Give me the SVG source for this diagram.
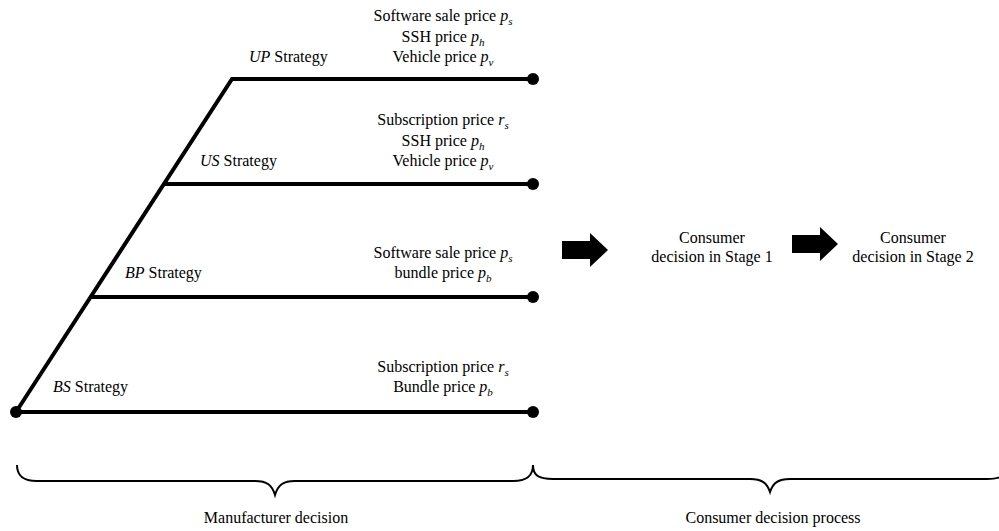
<svg xmlns="http://www.w3.org/2000/svg" width="999" height="531" viewBox="0 0 999 531">
<style>
text{font-family:"Liberation Serif","Times New Roman",serif;font-size:16px;fill:#000}
.c{text-anchor:middle}
.i{font-style:italic}
.sub{font-size:11px;font-style:italic}
.ln{stroke:#000;stroke-width:4;fill:none}
.br{stroke:#000;stroke-width:2;fill:none}
.dot{fill:#000}
</style>
<rect width="999" height="531" fill="#fff"/>
<g id="connectors">
<polyline class="ln" points="16,412 232,79 533,79" stroke-linejoin="miter"/>
<line class="ln" x1="164" y1="184" x2="533" y2="184"/>
<line class="ln" x1="91" y1="297" x2="533" y2="297"/>
<line class="ln" x1="16" y1="412" x2="533" y2="412"/>
<circle class="dot" cx="16" cy="412" r="6"/>
<circle class="dot" cx="533" cy="79" r="6"/>
<circle class="dot" cx="533" cy="184" r="6"/>
<circle class="dot" cx="533" cy="297" r="6"/>
<circle class="dot" cx="533" cy="412" r="6"/>
<polygon class="dot" points="562,241 590,241 590,233 608,250 590,267 590,259 562,259"/>
<polygon class="dot" points="792,235 820,235 820,227 838,244 820,261 820,253 792,253"/>
<path class="br" d="M17,465 C17,475 22,481 37,481 L255,481 C267,481 272,485 275,495 C278,485 283,481 295,481 L513,481 C528,481 533,475 533,465"/>
<path class="br" d="M533,465 C533,475 538,479 553,479 L750,479 C762,479 767,483 770,492 C773,483 778,479 790,479 L987,479 C1002,479 1007,475 1007,465"/>
</g>
<g id="up">
<text x="249" y="62"><tspan class="i">UP</tspan> Strategy</text>
<text class="c" x="443" y="21">Software sale price <tspan class="i">p</tspan><tspan class="sub" dy="4">s</tspan></text>
<text class="c" x="443" y="42">SSH price <tspan class="i">p</tspan><tspan class="sub" dy="4">h</tspan></text>
<text class="c" x="443" y="62">Vehicle price <tspan class="i">p</tspan><tspan class="sub" dy="4">v</tspan></text>
</g>
<g id="us">
<text x="200" y="166"><tspan class="i">US</tspan> Strategy</text>
<text class="c" x="443" y="125">Subscription price <tspan class="i">r</tspan><tspan class="sub" dy="4">s</tspan></text>
<text class="c" x="443" y="146">SSH price <tspan class="i">p</tspan><tspan class="sub" dy="4">h</tspan></text>
<text class="c" x="443" y="166">Vehicle price <tspan class="i">p</tspan><tspan class="sub" dy="4">v</tspan></text>
</g>
<g id="bp">
<text x="125" y="278"><tspan class="i">BP</tspan> Strategy</text>
<text class="c" x="443" y="258">Software sale price <tspan class="i">p</tspan><tspan class="sub" dy="4">s</tspan></text>
<text class="c" x="443" y="278">bundle price <tspan class="i">p</tspan><tspan class="sub" dy="4">b</tspan></text>
</g>
<g id="bs">
<text x="53" y="392"><tspan class="i">BS</tspan> Strategy</text>
<text class="c" x="443" y="372">Subscription price <tspan class="i">r</tspan><tspan class="sub" dy="4">s</tspan></text>
<text class="c" x="443" y="392">Bundle price <tspan class="i">p</tspan><tspan class="sub" dy="4">b</tspan></text>
</g>
<g id="stage1">
<text class="c" x="712" y="243">Consumer</text>
<text class="c" x="712" y="262">decision in Stage 1</text>
</g>
<g id="stage2">
<text class="c" x="913" y="243">Consumer</text>
<text class="c" x="913" y="262">decision in Stage 2</text>
</g>
<g id="labels">
<text class="c" x="276" y="523">Manufacturer decision</text>
<text class="c" x="773" y="523">Consumer decision process</text>
</g>
</svg>
